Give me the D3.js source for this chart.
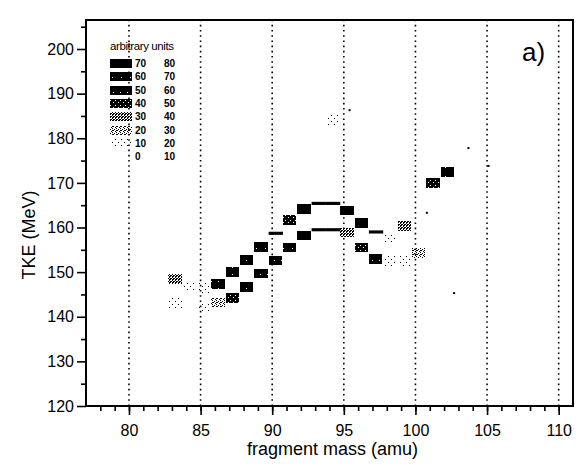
<!DOCTYPE html>
<html>
<head>
<meta charset="utf-8">
<script src="https://cdn.jsdelivr.net/npm/d3@7"></script>
<style>
  body { margin: 0; background: #fff; }
  svg { display: block; font-family: "Liberation Sans", Arial, sans-serif; }
</style>
</head>
<body>
<div id="chart"></div>
<script>
'use strict';

const width = 579;
const height = 472;

// tick values
const massTicks = [80, 85, 90, 95, 100, 105, 110];
const tkeTicks = [120, 130, 140, 150, 160, 170, 180, 190, 200];

// legend bands (arbitrary units)
const legendLow = [70, 60, 50, 40, 30, 20, 10, 0];
const legendHigh = [80, 70, 60, 50, 40, 30, 20, 10];

// cells: [mass, TKE, counts]
const upperBranch = [
	[83, 148.5, 35], [84, 146.6, 14], [85, 146.4, 16], [86, 147.4, 55],
	[87, 150.1, 55], [88, 152.8, 55], [89, 155.7, 60], [91, 161.7, 48],
	[92, 164.2, 72], [95, 163.8, 78], [96, 161.1, 70]
];
const lowerBranch = [
	[83, 143.0, 15], [85, 141.9, 18], [86, 143.2, 25], [87, 144.2, 45],
	[88, 146.6, 52], [89, 149.7, 55], [90, 152.6, 58], [91, 155.5, 65],
	[92, 158.2, 70], [95, 158.9, 35], [98, 157.7, 18], [99, 160.4, 38],
	[100, 154.3, 20]
];
const rightCluster = [
	[96, 155.5, 45], [97, 153.0, 50], [98, 152.5, 12], [99, 152.5, 12],
	[101, 170.0, 40], [102, 172.5, 65], [94, 184.0, 15]
];
// thin ridges of high counts: [mass, TKE]
const ridgeCells = [[90, 158.7], [93, 165.4], [94, 165.4], [93, 159.5], [94, 159.5], [97, 159.0]];
// isolated single counts: [mass, TKE]
const strayCounts = [[103.7, 177.8], [105.1, 173.8], [100.8, 163.3], [102.7, 145.3], [95.4, 186.3]];

const margin = { left: 86, right: 6, top: 20, bottom: 66 };

const svg = d3.select('#chart').append('svg')
	.attr('width', width)
	.attr('height', height);

const x = d3.scaleLinear().domain([77, 111]).range([margin.left, width - margin.right]);
const y = d3.scaleLinear().domain([120, 206.5]).range([height - margin.bottom, margin.top]);

// fill patterns imitating the printed grey levels
const defs = svg.append('defs');
const patternDots = [
	{ size: 6, bg: null, fg: '#000', dots: [] },
	{ size: 6, bg: null, fg: '#000', dots: [[1, 1], [4, 4]] },
	{ size: 4, bg: null, fg: '#000', dots: [[0, 0], [2, 1], [1, 2], [3, 3], [0, 2]] },
	{ size: 3, bg: '#000', fg: '#fff', dots: [[0, 0], [2, 1], [1, 2], [0, 1]] },
	{ size: 5, bg: '#000', fg: '#fff', dots: [[0, 0], [3, 2]] },
	{ size: 7, bg: '#000', fg: '#fff', dots: [[1, 1]] },
	{ size: 9, bg: '#000', fg: '#fff', dots: [[4, 5]] },
	{ size: 4, bg: '#000', fg: '#000', dots: [] }
];
patternDots.forEach((p, i) => {
	const pat = defs.append('pattern')
		.attr('id', 'lvl' + i)
		.attr('patternUnits', 'userSpaceOnUse')
		.attr('width', p.size)
		.attr('height', p.size);
	if (p.bg) pat.append('rect').attr('width', p.size).attr('height', p.size).attr('fill', p.bg);
	p.dots.forEach(d => {
		pat.append('rect').attr('x', d[0]).attr('y', d[1]).attr('width', 1).attr('height', 1).attr('fill', p.fg);
	});
});
const level = v => Math.max(0, Math.min(7, Math.floor(v / 10)));

// dotted verticals
svg.append('g')
	.selectAll('line')
	.data(massTicks)
	.enter().append('line')
	.attr('x1', d => x(d)).attr('x2', d => x(d))
	.attr('y1', y(120)).attr('y2', margin.top)
	.attr('stroke', '#000')
	.attr('stroke-width', 1.6)
	.attr('stroke-dasharray', '1.6,3.6');

// cells
const cellW = 0.94;
const cellH = 2.2;
const cells = upperBranch.concat(lowerBranch, rightCluster);
svg.append('g')
	.selectAll('rect')
	.data(cells)
	.enter().append('rect')
	.attr('x', d => x(d[0] - 0.25))
	.attr('y', d => y(d[1] + cellH / 2))
	.attr('width', x(77 + cellW) - x(77))
	.attr('height', y(120) - y(120 + cellH))
	.attr('fill', d => `url(#lvl${level(d[2])})`)
	.attr('shape-rendering', 'crispEdges');

svg.append('g')
	.selectAll('rect')
	.data(ridgeCells)
	.enter().append('rect')
	.attr('x', d => x(d[0] - 0.25))
	.attr('y', d => y(d[1] + 0.35))
	.attr('width', x(78) - x(77))
	.attr('height', y(120) - y(120.7))
	.attr('fill', '#000');

svg.append('g')
	.selectAll('rect')
	.data(strayCounts)
	.enter().append('rect')
	.attr('x', d => x(d[0]) - 1)
	.attr('y', d => y(d[1]) - 1)
	.attr('width', 2)
	.attr('height', 2)
	.attr('fill', '#000');

// axes
svg.append('g')
	.attr('transform', `translate(0,${y(120)})`)
	.call(d3.axisBottom(x).tickValues(d3.range(78, 111)).tickSize(5).tickFormat(''))
	.call(g => g.select('.domain').remove());
svg.append('g')
	.attr('transform', `translate(0,${y(120)})`)
	.call(d3.axisBottom(x).tickValues(massTicks).tickSize(9).tickPadding(10))
	.call(g => g.select('.domain').remove())
	.call(g => g.selectAll('text').attr('font-size', 16).attr('font-family', 'Liberation Sans, Arial, sans-serif').attr('fill', '#000'));

svg.append('g')
	.attr('transform', `translate(${margin.left},0)`)
	.call(d3.axisLeft(y).tickValues(d3.range(125, 206, 10)).tickSize(5).tickFormat(''))
	.call(g => g.select('.domain').remove());
svg.append('g')
	.attr('transform', `translate(${margin.left},0)`)
	.call(d3.axisLeft(y).tickValues(tkeTicks).tickSize(9).tickPadding(3))
	.call(g => g.select('.domain').remove())
	.call(g => g.selectAll('text').attr('font-size', 16).attr('font-family', 'Liberation Sans, Arial, sans-serif').attr('fill', '#000'));

svg.selectAll('.tick line').attr('stroke', '#000').attr('stroke-width', 1.6);

// frame
svg.append('rect')
	.attr('x', margin.left)
	.attr('y', margin.top)
	.attr('width', x(111) - margin.left)
	.attr('height', y(120) - margin.top)
	.attr('fill', 'none')
	.attr('stroke', '#000')
	.attr('stroke-width', 2);

// labels
svg.append('text')
	.attr('x', (margin.left + width - margin.right) / 2 + 3)
	.attr('y', 455)
	.attr('text-anchor', 'middle')
	.attr('font-size', 18)
	.text('fragment mass (amu)');

svg.append('text')
	.attr('transform', 'translate(35,235) rotate(-90)')
	.attr('text-anchor', 'middle')
	.attr('font-size', 18)
	.text('TKE (MeV)');

svg.append('text')
	.attr('x', 522)
	.attr('y', 61)
	.attr('font-size', 26)
	.text('a)');

// legend
const legend = svg.append('g');
legend.append('text')
	.attr('x', 110)
	.attr('y', 50)
	.attr('font-size', 11.5)
	.attr('letter-spacing', -0.4)
	.attr('fill', '#000')
	.text('arbitrary units');

const rowY = i => 63.5 + i * 13.3;
legendLow.forEach((lo, i) => {
	legend.append('rect')
		.attr('x', 110).attr('y', rowY(i) - 4.5)
		.attr('width', 22).attr('height', 9)
		.attr('fill', `url(#lvl${level(lo + 5)})`)
		.attr('shape-rendering', 'crispEdges');
	legend.append('text')
		.attr('x', 135).attr('y', rowY(i) + 3.5)
		.attr('font-size', 10).attr('font-weight', 'bold')
		.text(lo);
	legend.append('text')
		.attr('x', 175).attr('y', rowY(i) + 3.5)
		.attr('text-anchor', 'end')
		.attr('font-size', 10).attr('font-weight', 'bold')
		.text(legendHigh[i]);
});
</script>
</body>
</html>
